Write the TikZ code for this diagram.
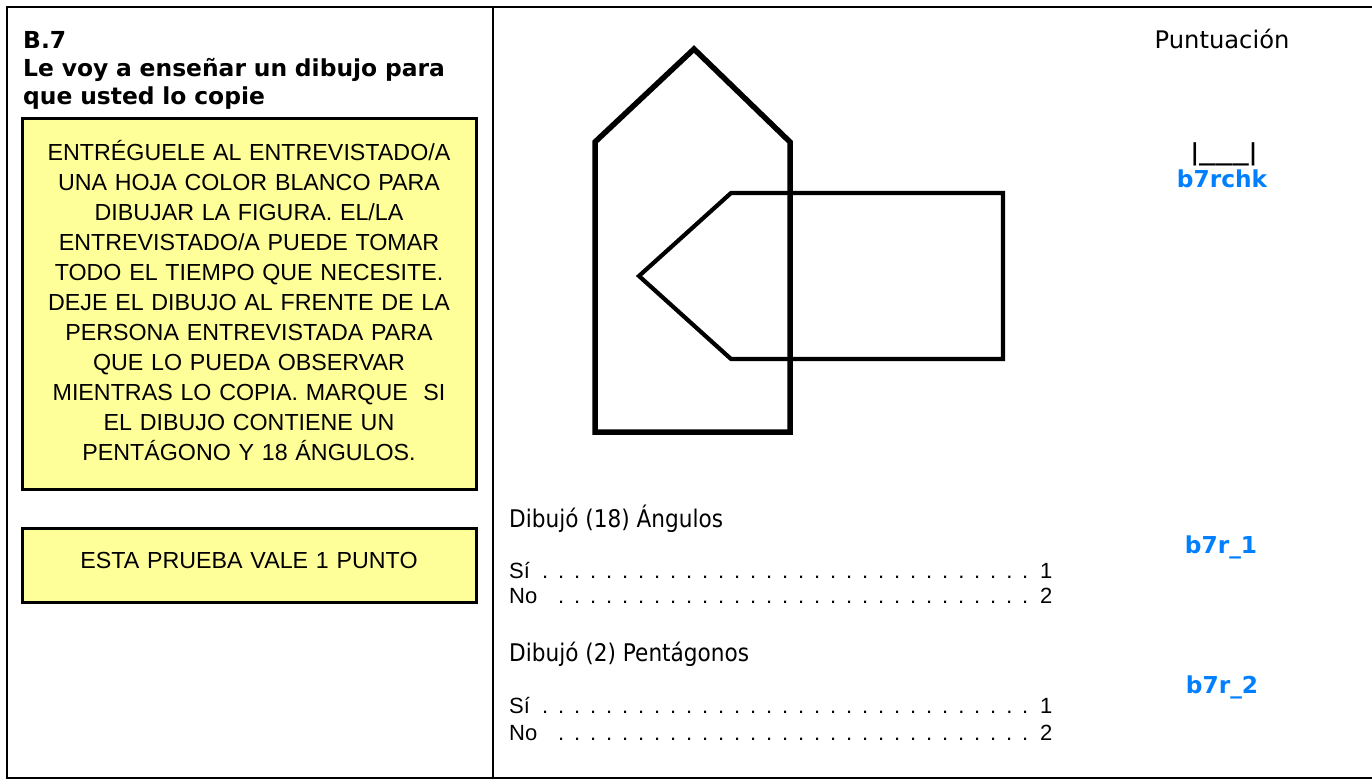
\documentclass[tikz,border=0pt]{standalone}
\usepackage{fontspec}
\setmainfont{Liberation Sans}
\newfontfamily\verdfont{DejaVu Sans}
\newfontfamily\tahfont[FakeStretch=0.89]{DejaVu Sans}
\definecolor{ylw}{RGB}{255,255,153}
\definecolor{codeblue}{RGB}{0,128,255}
\newcommand{\dotrow}[4]{\makebox[#1pt][l]{#2}\cleaders\hbox to 16pt{\hss.\hss}\hskip#3pt\makebox[19pt][r]{#4}}
\begin{document}
\begin{tikzpicture}[x=1pt,y=-1pt,
  frameline/.style={line width=2.8pt},
  notebox/.style={draw=black,line width=3pt,fill=ylw},
  notetext/.style={anchor=base,inner sep=0pt,text width=450pt,align=center,font=\fontsize{23.25}{30}\selectfont},
  titletext/.style={anchor=base west,inner sep=0pt,text width=465pt,align=left,font=\verdfont\bfseries\fontsize{23.4}{28}\selectfont},
  scoretext/.style={anchor=base,inner sep=0pt,font=\verdfont\fontsize{24.2}{28}\selectfont},
  codetext/.style={anchor=base,inner sep=0pt,text=codeblue,font=\verdfont\bfseries\fontsize{23.3}{28}\selectfont},
  questext/.style={anchor=base west,inner sep=0pt,font=\tahfont\fontsize{24.3}{28}\selectfont},
  opttext/.style={anchor=base west,inner sep=0pt,font=\fontsize{22}{26}\selectfont},
  housepath/.style={line width=5.5pt,line join=miter},
  arrowpath/.style={line width=4.2pt,line join=miter}
]
\useasboundingbox (0,0) rectangle (1372,783);
% frame
\draw[frameline] (1372,7) -- (7,7) -- (7,778) -- (1372,778);
\draw[frameline] (493,7) -- (493,778);
% left column
\node[titletext] (title) at (23,49) {B.7\\Le voy a enseñar un dibujo para\\que usted lo copie};
\draw[notebox] (22,119) rectangle (476,489);
\node[notetext] (instr) at (249,161) {ENTRÉGUELE AL ENTREVISTADO/A\\UNA HOJA COLOR BLANCO PARA\\DIBUJAR LA FIGURA. EL/LA\\ENTREVISTADO/A PUEDE TOMAR\\TODO EL TIEMPO QUE NECESITE.\\DEJE EL DIBUJO AL FRENTE DE LA\\PERSONA ENTREVISTADA PARA\\QUE LO PUEDA OBSERVAR\\MIENTRAS LO COPIA. MARQUE~ SI\\EL DIBUJO CONTIENE UN\\PENTÁGONO Y 18 ÁNGULOS.};
\draw[notebox] (22,528) rectangle (476,602);
\node[notetext] (points) at (249,568) {ESTA PRUEBA VALE 1 PUNTO};
% figure
\draw[housepath] (595,432) -- (595,142) -- (694,49) -- (790,142) -- (790,432) -- cycle;
\draw[arrowpath] (639,276) -- (731,193) -- (1003,193) -- (1003,359) -- (731,359) -- cycle;
% score column
\node[scoretext] (score) at (1222,49) {Puntuación};
\node[anchor=base,inner sep=0pt,font=\verdfont\bfseries\fontsize{23.3}{28}\selectfont] (blank) at (1224,161) {|\scalebox{1.42}[1]{\_\_\_}|};
\node[codetext] (chk) at (1222,188) {b7rchk};
% questions
\node[questext] (q1) at (509,527) {Dibujó (18) Ángulos};
\node[opttext] (q1yes) at (509,578) {\dotrow{28}{Sí}{496}{1}};
\node[opttext] (q1no) at (509,603) {\dotrow{44}{No}{480}{2}};
\node[codetext] (c1) at (1221,553) {b7r\_1};
\node[questext] (q2) at (509,661) {Dibujó (2) Pentágonos};
\node[opttext] (q2yes) at (509,713) {\dotrow{28}{Sí}{496}{1}};
\node[opttext] (q2no) at (509,740) {\dotrow{44}{No}{480}{2}};
\node[codetext] (c2) at (1222,693) {b7r\_2};
\end{tikzpicture}
\end{document}
